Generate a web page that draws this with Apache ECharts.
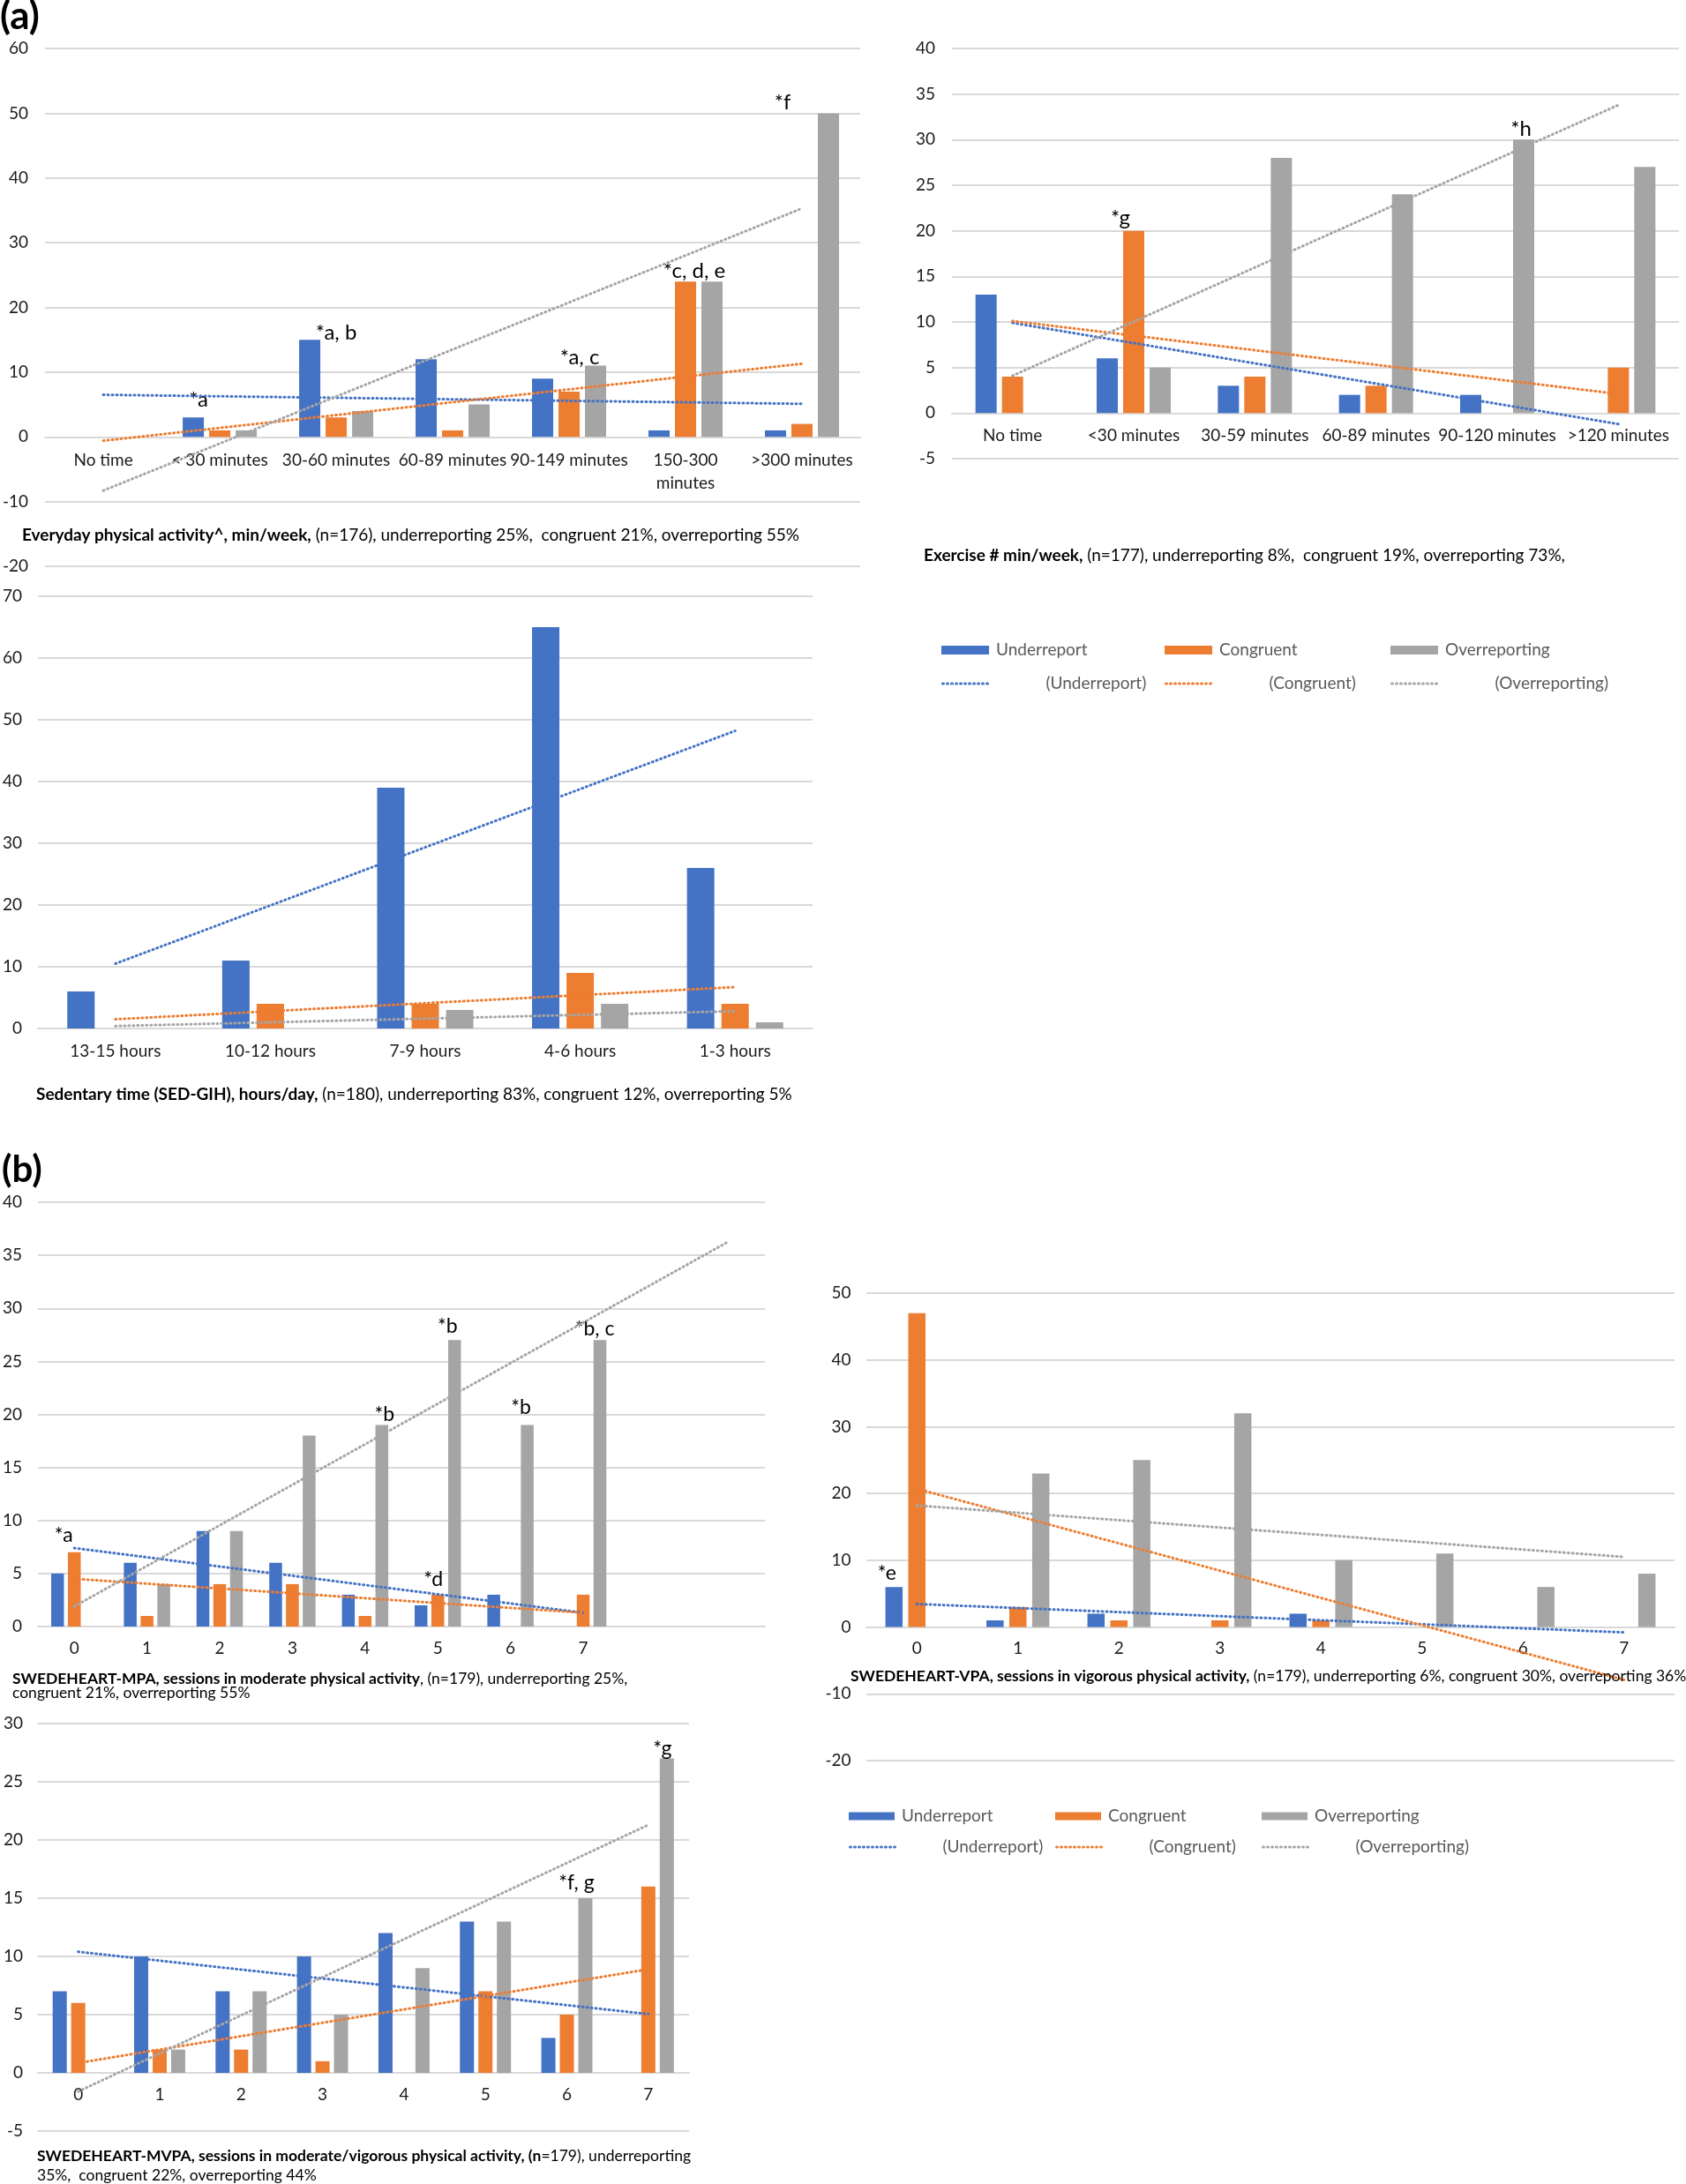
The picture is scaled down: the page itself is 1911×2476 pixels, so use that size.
<!DOCTYPE html>
<html>
<head>
<meta charset="utf-8">
<script src="https://cdn.jsdelivr.net/npm/echarts@6/dist/echarts.min.js"></script>
<style>
  html, body { margin: 0; padding: 0; background: #fff; }
  #chart { width: 1911px; height: 2476px; }
</style>
</head>
<body>
<div id="chart"></div>
<script>
// ---- data ----
const seriesNames = ['Underreport', 'Congruent', 'Overreporting']
const trendNames = ['(Underreport)', '(Congruent)', '(Overreporting)']

// (a) everyday physical activity, min/week
const everydayCats = ['No time', '< 30 minutes', '30-60 minutes', '60-89 minutes', '90-149 minutes', '150-300\nminutes', '>300 minutes']
const everydayUnder = [0, 3, 15, 12, 9, 1, 1]
const everydayCong = [0, 1, 3, 1, 7, 24, 2]
const everydayOver = [0, 1, 4, 5, 11, 24, 50]
const everydayTrend = [[[0, 6.5], [6, 5.1]], [[0, -0.6], [6, 11.3]], [[0, -8.3], [6, 35.3]]]
const everydayNotes = [[0, 1, '*a'], [0, 2, '*a, b'], [2, 4, '*a, c'], [1, 5, '*c, d, e'], [2, 6, '*f']]

// (a) exercise, min/week
const exerciseCats = ['No time', '<30 minutes', '30-59 minutes', '60-89 minutes', '90-120 minutes', '>120 minutes']
const exerciseUnder = [13, 6, 3, 2, 2, 0]
const exerciseCong = [4, 20, 4, 3, 0, 5]
const exerciseOver = [0, 5, 28, 24, 30, 27]
const exerciseTrend = [[[0, 9.9], [5, -1.2]], [[0, 10.1], [5, 2.1]], [[0, 4.1], [5, 33.8]]]
const exerciseNotes = [[1, 1, '*g'], [2, 4, '*h']]

// (a) sedentary time, hours/day
const sedentaryCats = ['13-15 hours', '10-12 hours', '7-9 hours', '4-6 hours', '1-3 hours']
const sedentaryUnder = [6, 11, 39, 65, 26]
const sedentaryCong = [0, 4, 4, 9, 4]
const sedentaryOver = [0, 0, 3, 4, 1]
const sedentaryTrend = [[[0, 10.5], [4, 48.2]], [[0, 1.5], [4, 6.7]], [[0, 0.4], [4, 2.8]]]
const sedentaryNotes = []

// (b) SWEDEHEART-MPA sessions
const mpaCats = ['0', '1', '2', '3', '4', '5', '6', '7', ' ', '  ']
const mpaUnder = [5, 6, 9, 6, 3, 2, 3, 0]
const mpaCong = [7, 1, 4, 4, 1, 3, 0, 3]
const mpaOver = [0, 4, 9, 18, 19, 27, 19, 27]
const mpaTrend = [[[0, 7.4], [7, 1.3]], [[0, 4.5], [7, 1.3]], [[0, 1.9], [9, 36.3]]]
const mpaNotes = [[1, 0, '*a'], [2, 4, '*b'], [2, 5, '*b'], [2, 6, '*b'], [2, 7, '*b, c'], [1, 5, '*d']]

// (b) SWEDEHEART-VPA sessions
const vpaCats = ['0', '1', '2', '3', '4', '5', '6', '7']
const vpaUnder = [6, 1, 2, 0, 2, 0, 0, 0]
const vpaCong = [47, 3, 1, 1, 1, 0, 0, 0]
const vpaOver = [0, 23, 25, 32, 10, 11, 6, 8]
const vpaTrend = [[[0, 3.45], [7, -0.8]], [[0, 20.7], [7, -7.9]], [[0, 18.2], [7, 10.5]]]
const vpaNotes = [[0, 0, '*e']]

// (b) SWEDEHEART-MVPA sessions
const mvpaCats = ['0', '1', '2', '3', '4', '5', '6', '7']
const mvpaUnder = [7, 10, 7, 10, 12, 13, 3, 0]
const mvpaCong = [6, 2, 2, 1, 0, 7, 5, 16]
const mvpaOver = [0, 2, 7, 5, 9, 13, 15, 27]
const mvpaTrend = [[[0, 10.4], [7, 5.05]], [[0, 0.85], [7, 8.9]], [[0, -1.6], [7, 21.3]]]
const mvpaNotes = [[2, 6, '*f, g'], [2, 7, '*g']]

// ---- styling / layout ----
const FONT = 'Lato, "Liberation Sans", sans-serif'
const COLORS = ['#4472C4', '#ED7D31', '#A5A5A5']
const GRID_COLOR = '#d9d9d9'
const HIDDEN = 'rgba(0,0,0,0)'
const DOTS = [1, 4]

const panels = [
  {
    cats: everydayCats, values: [everydayUnder, everydayCong, everydayOver], trend: everydayTrend,
    notes: everydayNotes, noteOffsets: [[6, -8], [30, 4], [-18, 3], [10, 0], [-52, 0]],
    grid: { left: 47, top: 55, width: 928, height: 587 }, y: [-20, 60, 10],
    barWidth: 24, barGap: '25%', xMargin: 14, yMargin: 19, noteSize: 24
  },
  {
    cats: exerciseCats, values: [exerciseUnder, exerciseCong, exerciseOver], trend: exerciseTrend,
    notes: exerciseNotes, noteOffsets: [[-15, -2], [-3, 0]],
    grid: { left: 1079, top: 55, width: 824, height: 465 }, y: [-5, 40, 5],
    barWidth: 24, barGap: '25%', xMargin: 13, yMargin: 19, noteSize: 24
  },
  {
    cats: sedentaryCats, values: [sedentaryUnder, sedentaryCong, sedentaryOver], trend: sedentaryTrend,
    notes: sedentaryNotes, noteOffsets: [],
    grid: { left: 39, top: 676, width: 882, height: 490 }, y: [0, 70, 10],
    barWidth: 31, barGap: '26%', xMargin: 13, yMargin: 18, noteSize: 24
  },
  {
    cats: mpaCats, values: [mpaUnder, mpaCong, mpaOver], trend: mpaTrend,
    notes: mpaNotes, noteOffsets: [[-12, -8], [3, 0], [-8, -4], [-7, -8], [-6, -1], [-5, -6]],
    grid: { left: 39, top: 1363, width: 828, height: 481 }, y: [0, 40, 5],
    barWidth: 14.5, barGap: '31%', xMargin: 12, yMargin: 18, noteSize: 23
  },
  {
    cats: vpaCats, values: [vpaUnder, vpaCong, vpaOver], trend: vpaTrend,
    notes: vpaNotes, noteOffsets: [[-8, -4]],
    grid: { left: 982, top: 1466, width: 916, height: 530 }, y: [-20, 50, 10],
    barWidth: 19.5, barGap: '33%', xMargin: 11, yMargin: 17.5, noteSize: 23
  },
  {
    cats: mvpaCats, values: [mvpaUnder, mvpaCong, mvpaOver], trend: mvpaTrend,
    notes: mvpaNotes, noteOffsets: [[-10, -6], [-5, 0]],
    grid: { left: 42.5, top: 1954, width: 738.5, height: 462 }, y: [-5, 30, 5],
    barWidth: 16, barGap: '31%', xMargin: 12, yMargin: 16.5, noteSize: 23
  }
]

const captions = [
  { left: 25, top: 596, size: 19, lh: 22, text: '{b|Everyday physical activity^, min/week,} (n=176), underreporting 25%,  congruent 21%, overreporting 55%' },
  { left: 1047, top: 619, size: 19, lh: 22, text: '{b|Exercise # min/week,} (n=177), underreporting 8%,  congruent 19%, overreporting 73%,' },
  { left: 41, top: 1230, size: 19, lh: 22, text: '{b|Sedentary time (SED-GIH), hours/day,} (n=180), underreporting 83%, congruent 12%, overreporting 5%' },
  { left: 14, top: 1895, size: 17.5, lh: 16, text: '{b|SWEDEHEART-MPA, sessions in moderate physical activity}, (n=179), underreporting 25%,\ncongruent 21%, overreporting 55%' },
  { left: 964, top: 1889, size: 17.5, lh: 22, text: '{b|SWEDEHEART-VPA, sessions in vigorous physical activity,} (n=179), underreporting 6%, congruent 30%, overreporting 36%' },
  { left: 42, top: 2433, size: 17.5, lh: 22, text: '{b|SWEDEHEART-MVPA, sessions in moderate/vigorous physical activity, (n}=179), underreporting\n35%,  congruent 22%, overreporting 44%' }
]

const legendBlocks = [
  { cols: [1067, 1320, 1576], rows: [726, 764], gap: 58, w: 54, h: 10 },
  { cols: [962, 1196, 1430], rows: [2048, 2083], gap: 48, w: 52, h: 9 }
]

const option = {
  animation: false,
  backgroundColor: '#fff',
  title: [
    { text: '(a)', left: 0, top: -6, padding: 0, textStyle: { fontSize: 44, fontWeight: 'bold', fontFamily: FONT, color: '#000', lineHeight: 50 } },
    { text: '(b)', left: 2, top: 1301, padding: 0, textStyle: { fontSize: 42, fontWeight: 'bold', fontFamily: FONT, color: '#000', lineHeight: 50 } }
  ],
  grid: [],
  xAxis: [],
  yAxis: [],
  legend: [],
  series: []
}

captions.forEach(c => {
  option.title.push({
    text: c.text, left: c.left, top: c.top, padding: 0,
    textStyle: {
      fontSize: c.size, fontWeight: 'normal', fontFamily: FONT, color: '#000', lineHeight: c.lh,
      rich: { b: { fontSize: c.size, fontWeight: 'bold', fontFamily: FONT, color: '#000', lineHeight: c.lh } }
    }
  })
})

panels.forEach((p, i) => {
  option.grid.push(Object.assign({ containLabel: false }, p.grid))
  // category axis sits on the zero line of the value axis
  const zeroShift = -p.grid.height * (0 - p.y[0]) / (p.y[1] - p.y[0])
  option.xAxis.push({
    type: 'category', gridIndex: i, data: p.cats, offset: zeroShift,
    axisLine: { onZero: false, lineStyle: { color: GRID_COLOR, width: 2 } },
    axisTick: { show: false },
    axisLabel: { interval: 0, margin: p.xMargin, color: '#1a1a1a', fontSize: 19, fontFamily: FONT, lineHeight: 26 },
    splitLine: { show: false }
  })
  option.yAxis.push({
    type: 'value', gridIndex: i, min: p.y[0], max: p.y[1], interval: p.y[2],
    axisLine: { show: false }, axisTick: { show: false },
    axisLabel: { margin: p.yMargin, color: '#1a1a1a', fontSize: 19, fontFamily: FONT },
    splitLine: { lineStyle: { color: GRID_COLOR, width: 2 } }
  })

  p.values.forEach((vals, s) => {
    const data = vals.map((v, k) => {
      const n = p.notes.findIndex(note => note[0] === s && note[1] === k)
      if (n < 0) return v
      return {
        value: v,
        label: {
          show: true, position: 'top', distance: 0, formatter: p.notes[n][2],
          offset: p.noteOffsets[n], fontSize: p.noteSize, fontFamily: FONT, color: '#000'
        }
      }
    })
    option.series.push({
      type: 'bar', name: seriesNames[s], xAxisIndex: i, yAxisIndex: i, data,
      barWidth: p.barWidth, barGap: p.barGap, itemStyle: { color: COLORS[s] }
    })
  })

  p.trend.forEach((pts, s) => {
    option.series.push({
      type: 'line', name: trendNames[s], xAxisIndex: i, yAxisIndex: i, data: pts,
      symbol: 'none', silent: true, z: 5,
      itemStyle: { color: COLORS[s] },
      lineStyle: { color: COLORS[s], width: 3, type: DOTS, cap: 'round' }
    })
  })
})

legendBlocks.forEach(b => {
  b.cols.forEach((x, s) => {
    option.legend.push({
      data: [seriesNames[s]], left: x, top: b.rows[0], padding: 0, icon: 'rect',
      itemWidth: b.w, itemHeight: b.h, selectedMode: false,
      textStyle: { fontSize: 19, fontFamily: FONT, color: '#595959', lineHeight: 22, padding: [0, 0, 0, 3] }
    })
    option.legend.push({
      data: [trendNames[s]], left: x, top: b.rows[1], padding: 0,
      itemWidth: b.w, itemHeight: b.h, selectedMode: false,
      itemStyle: { color: HIDDEN, borderColor: HIDDEN, borderWidth: 0 },
      lineStyle: { color: COLORS[s], width: 3, type: DOTS, cap: 'round' },
      textStyle: { fontSize: 19, fontFamily: FONT, color: '#595959', lineHeight: 22, padding: [0, 0, 0, b.gap] }
    })
  })
})

const chart = echarts.init(document.getElementById('chart'))
chart.setOption(option)
</script>
</body>
</html>
